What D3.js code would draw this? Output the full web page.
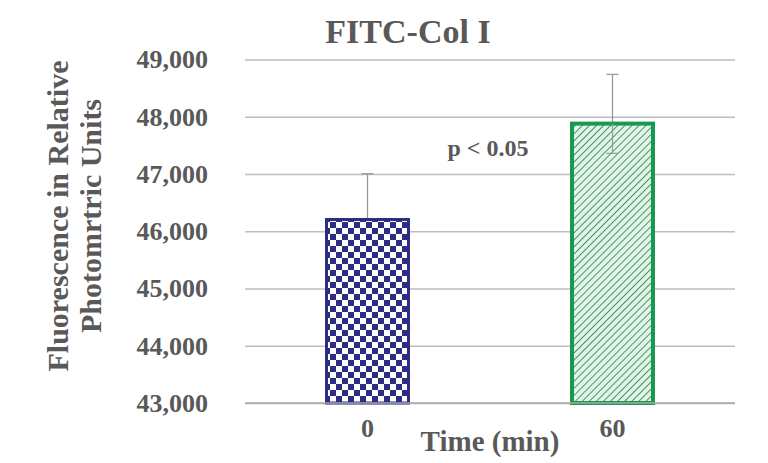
<!DOCTYPE html>
<html>
<head>
<meta charset="utf-8">
<script src="https://cdn.jsdelivr.net/npm/d3@7"></script>
<style>
  body { margin: 0; background: #fff; }
  svg text { font-family: "Liberation Serif", "Times New Roman", serif; font-weight: bold; fill: #595959; }
</style>
</head>
<body>
<div id="chart"></div>
<script>
// data
var times = ["0", "60"];
var means = [46205, 47880];
var errUp = [800, 860];
var errDown = [800, 520];
var yTicks = [43000, 44000, 45000, 46000, 47000, 48000, 49000];

var width = 768, height = 463;

document.addEventListener('DOMContentLoaded', function () {
  draw();
}, false);

function draw() {
  var svg = d3.select("#chart").append("svg")
    .attr("width", width)
    .attr("height", height);

  var defs = svg.append("defs");

  // checkerboard for the 0 min bar
  var chk = defs.append("pattern")
    .attr("id", "checker")
    .attr("patternUnits", "userSpaceOnUse")
    .attr("width", 12).attr("height", 12);
  chk.append("rect").attr("width", 12).attr("height", 12).attr("fill", "#fff");
  chk.append("rect").attr("width", 6).attr("height", 6).attr("fill", "#2e2d84");
  chk.append("rect").attr("x", 6).attr("y", 6).attr("width", 6).attr("height", 6).attr("fill", "#2e2d84");

  // diagonal hatch for the 60 min bar
  var hatch = defs.append("pattern")
    .attr("id", "hatch")
    .attr("patternUnits", "userSpaceOnUse")
    .attr("width", 5).attr("height", 5)
    .attr("patternTransform", "rotate(45)");
  hatch.append("rect").attr("width", 5).attr("height", 5).attr("fill", "#e3f3e8");
  hatch.append("line").attr("x1", 0).attr("y1", 0).attr("x2", 0).attr("y2", 5)
    .attr("stroke", "#2f8f58").attr("stroke-width", 1.8);

  var y = d3.scaleLinear().domain([43000, 49000]).range([403, 59.5]);
  var x = d3.scalePoint().domain(times).range([245, 735]).padding(0.5);
  var barW = 85;

  // gridlines + tick labels
  var yAxis = d3.axisLeft(y)
    .tickValues(yTicks)
    .tickSize(-490)
    .tickPadding(37)
    .tickFormat(d3.format(","));
  var gy = svg.append("g").attr("transform", "translate(245,0)").call(yAxis);
  gy.select(".domain").remove();
  gy.selectAll(".tick line").attr("stroke", "#bdbdbd").attr("stroke-width", 1.3);
  gy.selectAll(".tick text")
    .attr("font-size", 26).attr("fill", "#595959")
    .style("font-family", "'Liberation Serif', serif").style("font-weight", "bold");

  var fills = ["url(#checker)", "url(#hatch)"];
  var strokes = ["#2e2d84", "#179a4e"];
  var sw = [3, 4];

  // error bars (drawn first so the bars cover the lower whisker)
  var eb = svg.append("g").selectAll("g").data(times).enter().append("g");
  eb.append("line")
    .attr("x1", function(d){ return x(d); })
    .attr("x2", function(d){ return x(d); })
    .attr("y1", function(d, i){ return y(means[i] + errUp[i]); })
    .attr("y2", function(d, i){ return y(means[i] - errDown[i]); })
    .attr("stroke", "#9a9a9a").attr("stroke-width", 1.3);
  eb.append("line")
    .attr("x1", function(d){ return x(d) - 6; })
    .attr("x2", function(d){ return x(d) + 6; })
    .attr("y1", function(d, i){ return y(means[i] + errUp[i]); })
    .attr("y2", function(d, i){ return y(means[i] + errUp[i]); })
    .attr("stroke", "#9a9a9a").attr("stroke-width", 1.3);

  svg.append("g").selectAll("rect")
    .data(times)
    .enter()
    .append("rect")
    .attr("x", function(d, i){ return x(d) - barW / 2 + sw[i] / 2; })
    .attr("width", function(d, i){ return barW - sw[i]; })
    .attr("y", function(d, i){ return y(means[i]); })
    .attr("height", function(d, i){ return y(43000) - y(means[i]); })
    .attr("fill", function(d, i){ return fills[i]; })
    .attr("stroke", function(d, i){ return strokes[i]; })
    .attr("stroke-width", function(d, i){ return sw[i]; });

  // lower whisker of the 60 bar shows through the hatch
  svg.append("line")
    .attr("x1", x("60")).attr("x2", x("60"))
    .attr("y1", y(means[1])).attr("y2", y(means[1] - errDown[1]))
    .attr("stroke", "#9a9a9a").attr("stroke-width", 1.2);
  svg.append("line")
    .attr("x1", x("60") - 6).attr("x2", x("60") + 6)
    .attr("y1", y(means[1] - errDown[1])).attr("y2", y(means[1] - errDown[1]))
    .attr("stroke", "#9a9a9a").attr("stroke-width", 1.2);

  // baseline
  svg.append("line")
    .attr("x1", 245).attr("x2", 735)
    .attr("y1", y(43000)).attr("y2", y(43000))
    .attr("stroke", "#a8a8a8").attr("stroke-width", 1.3);

  // category labels
  svg.append("g").selectAll("text")
    .data(times)
    .enter()
    .append("text")
    .attr("x", function(d){ return x(d); })
    .attr("y", 437)
    .attr("text-anchor", "middle")
    .attr("font-size", 26)
    .text(function(d){ return d; });

  svg.append("text")
    .attr("x", 490).attr("y", 451)
    .attr("text-anchor", "middle")
    .attr("font-size", 29)
    .text("Time (min)");

  svg.append("text")
    .attr("x", 408).attr("y", 43)
    .attr("text-anchor", "middle")
    .attr("font-size", 34)
    .text("FITC-Col I");

  svg.append("text")
    .attr("x", 488).attr("y", 156)
    .attr("text-anchor", "middle")
    .attr("font-size", 24)
    .text("p < 0.05");

  var yt = svg.append("text")
    .attr("transform", "translate(68,216) rotate(-90)")
    .attr("text-anchor", "middle")
    .attr("font-size", 30);
  yt.append("tspan").attr("x", 0).attr("dy", 0).text("Fluorescence in Relative");
  yt.append("tspan").attr("x", 0).attr("dy", 33).text("Photomrtric Units");
}
</script>
</body>
</html>
